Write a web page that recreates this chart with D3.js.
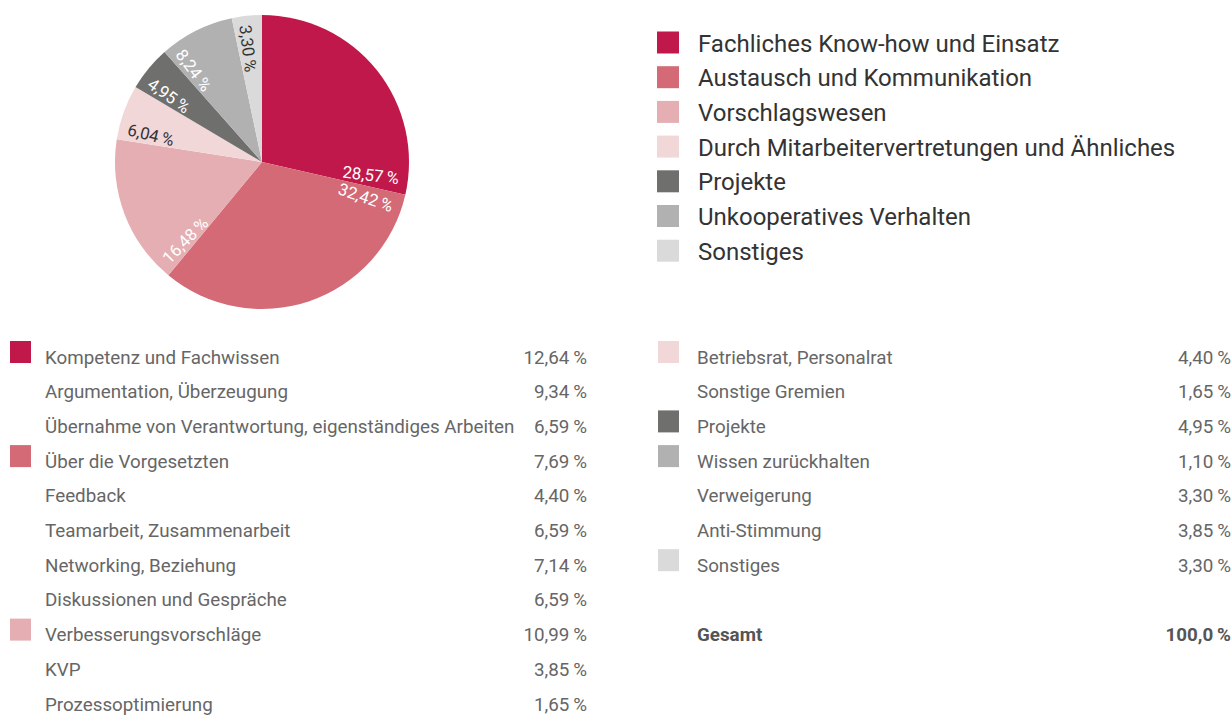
<!DOCTYPE html>
<html>
<head>
<meta charset="utf-8">
<script src="https://cdn.jsdelivr.net/npm/d3@7"></script>
<style>
  body { margin: 0; background: #fff; }
  svg { display: block; font-family: Roboto, "Noto Sans", sans-serif; }
</style>
</head>
<body>
<div id="chart"></div>
<script>
// main categories (pie + legend)
const categories = [
  "Fachliches Know-how und Einsatz",
  "Austausch und Kommunikation",
  "Vorschlagswesen",
  "Durch Mitarbeitervertretungen und Ähnliches",
  "Projekte",
  "Unkooperatives Verhalten",
  "Sonstiges"
]
const shares = [28.57, 32.42, 16.48, 6.04, 4.95, 8.24, 3.30]
const colors = ["#c0184a", "#d36a76", "#e5aeb2", "#f2d7d9", "#6f6f6e", "#b1b1b1", "#dadada"]

// detail table, group = index into categories
const leftItems = [
  "Kompetenz und Fachwissen",
  "Argumentation, Überzeugung",
  "Übernahme von Verantwortung, eigenständiges Arbeiten",
  "Über die Vorgesetzten",
  "Feedback",
  "Teamarbeit, Zusammenarbeit",
  "Networking, Beziehung",
  "Diskussionen und Gespräche",
  "Verbesserungsvorschläge",
  "KVP",
  "Prozessoptimierung"
]
const leftValues = [12.64, 9.34, 6.59, 7.69, 4.40, 6.59, 7.14, 6.59, 10.99, 3.85, 1.65]
const leftGroups = [0, 0, 0, 1, 1, 1, 1, 1, 2, 2, 2]

const rightItems = [
  "Betriebsrat, Personalrat",
  "Sonstige Gremien",
  "Projekte",
  "Wissen zurückhalten",
  "Verweigerung",
  "Anti-Stimmung",
  "Sonstiges"
]
const rightValues = [4.40, 1.65, 4.95, 1.10, 3.30, 3.85, 3.30]
const rightGroups = [3, 3, 4, 5, 5, 5, 6]

const totalLabel = "Gesamt"
const totalValue = "100,0"

const width = 1232, height = 715
const fmt = v => d3.format(".2f")(v).replace(".", ",") + "\u2009%"

let svg = d3.select("#chart").append("svg")
      .attr("width", width)
      .attr("height", height)

// PIE
let cx = 262, cy = 162, radius = 147
let pie = d3.pie().sort(null).value(d => d)
let arc = d3.arc().innerRadius(0).outerRadius(radius)
let arcs = pie(shares)

let pieG = svg.append("g")
      .attr("transform", "translate(" + cx + "," + cy + ")")

pieG.selectAll("path.slice")
  .data(arcs)
  .enter().append("path")
  .attr("class", "slice")
  .attr("d", arc)
  .attr("fill", (d, i) => colors[i])

// labels sit along a radius near a slice edge, rotated to read upright
let darkText = [3, 6]
pieG.selectAll("text.plabel")
  .data(arcs)
  .enter().append("text")
  .attr("class", "plabel")
  .each(function(d, i) {
    let a = i === 0 ? d.endAngle - 0.105 : d.startAngle + (i === 1 ? 0.105 : 0.085)
    let deg = a * 180 / Math.PI
    let rr = radius - 9
    let x = Math.sin(a) * rr, y = -Math.cos(a) * rr
    let right = deg < 180
    let rot = right ? deg - 90 : deg + 90
    d3.select(this)
      .attr("transform", "translate(" + x + "," + y + ") rotate(" + rot + ")")
      .attr("text-anchor", right ? "end" : "start")
      .attr("dy", "0.35em")
  })
  .attr("font-size", 16.8)
  .attr("fill", (d, i) => darkText.includes(i) ? "#333" : "#fff")
  .text(d => fmt(d.data))

// LEGEND
let legendStep = 34.7
let legend = svg.append("g").attr("class", "legend")
  .selectAll("g")
  .data(categories)
  .enter().append("g")
  .attr("transform", (d, i) => "translate(657," + (43 + i * legendStep) + ")")

legend.append("rect")
  .attr("x", 0).attr("y", -11.5)
  .attr("width", 22).attr("height", 22)
  .attr("fill", (d, i) => colors[i])

legend.append("text")
  .attr("x", 41)
  .attr("dy", "0.36em")
  .attr("font-size", 24)
  .attr("fill", "#333")
  .text(d => d)

// TABLE
let rowStep = 34.7, rowTop = 357, tableFont = 18.8
function drawTable(items, values, groups, x0, xText, xVal) {
  let rows = items.map((d, i) => ({label: d, value: values[i], group: groups[i],
                                   first: i === 0 || groups[i] !== groups[i - 1]}))
  let g = svg.append("g")
    .selectAll("g")
    .data(rows)
    .enter().append("g")
    .attr("transform", (d, i) => "translate(0," + (rowTop + i * rowStep) + ")")

  g.filter(d => d.first).append("rect")
    .attr("x", x0).attr("y", -16)
    .attr("width", 21).attr("height", 22)
    .attr("fill", d => colors[d.group])

  g.append("text")
    .attr("x", xText)
    .attr("dy", "0.35em")
    .attr("font-size", tableFont)
    .attr("fill", "#666")
    .text(d => d.label)

  g.append("text")
    .attr("x", xVal)
    .attr("dy", "0.35em")
    .attr("text-anchor", "end")
    .attr("font-size", tableFont)
    .attr("fill", "#666")
    .text(d => fmt(d.value))
  return g
}

drawTable(leftItems, leftValues, leftGroups, 10, 45, 587)
drawTable(rightItems, rightValues, rightGroups, 658, 697, 1231)

let totalY = rowTop + (rightItems.length + 1) * rowStep
svg.append("text")
  .attr("x", 697).attr("y", totalY)
  .attr("dy", "0.35em")
  .attr("font-size", tableFont).attr("font-weight", "bold")
  .attr("fill", "#555")
  .text(totalLabel)
svg.append("text")
  .attr("x", 1231).attr("y", totalY)
  .attr("dy", "0.35em")
  .attr("text-anchor", "end")
  .attr("font-size", tableFont).attr("font-weight", "bold")
  .attr("fill", "#555")
  .text(totalValue + "\u2009%")
</script>
</body>
</html>
